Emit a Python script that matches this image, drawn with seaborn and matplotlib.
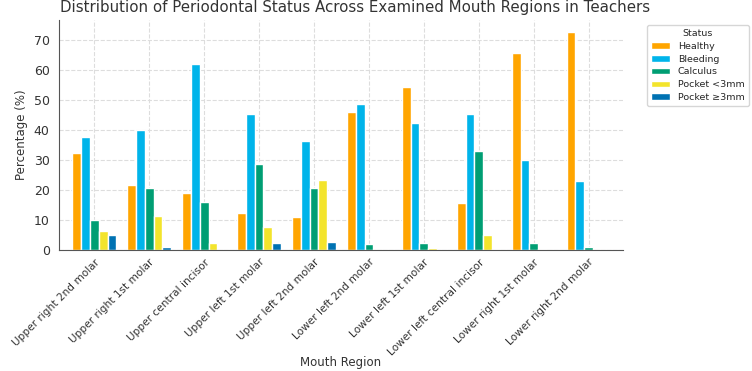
import pandas as pd
import matplotlib
matplotlib.use("Agg")
import matplotlib.pyplot as plt
import seaborn as sns

regions = ["Upper right 2nd molar", "Upper right 1st molar", "Upper central incisor",
           "Upper left 1st molar", "Upper left 2nd molar", "Lower left 2nd molar",
           "Lower left 1st molar", "Lower left central incisor", "Lower right 1st molar",
           "Lower right 2nd molar"]
statuses = ["Healthy", "Bleeding", "Calculus", "Pocket <3mm", "Pocket \u22653mm"]

healthy = [32.3, 21.8, 19.2, 12.4, 11.1, 46.0, 54.6, 15.7, 65.8, 72.7]
bleeding = [37.8, 40.0, 62.2, 45.3, 36.3, 48.8, 42.3, 45.4, 30.1, 23.2]
calculus = [10.0, 20.8, 16.1, 28.8, 20.6, 2.1, 2.2, 33.1, 2.4, 1.1]
pocket_lt3 = [6.4, 11.3, 2.2, 7.7, 23.3, 0.0, 0.7, 5.0, 0.2, 0.0]
pocket_ge3 = [5.0, 1.0, 0.0, 2.4, 2.6, 0.0, 0.0, 0.2, 0.0, 0.0]

colors = ["#FFA500", "#00B4EA", "#009E73", "#F3E42C", "#0072B2"]

df = pd.DataFrame({"Healthy": healthy, "Bleeding": bleeding, "Calculus": calculus,
                   statuses[3]: pocket_lt3, statuses[4]: pocket_ge3}, index=regions)
long = df.reset_index(names="Mouth Region").melt(id_vars="Mouth Region",
                                                   var_name="Status", value_name="Percentage")

sns.set_style("whitegrid", {"grid.linestyle": "--", "grid.color": "#d9d9d9",
                            "axes.edgecolor": "#555555"})
plt.rcParams['font.family'] = ['DejaVu Sans']

fig = plt.figure(figsize=(7.52, 3.71), dpi=100)
ax = fig.add_axes([0.078, 0.326, 0.75, 0.62])
sns.barplot(data=long, x="Mouth Region", y="Percentage", hue="Status",
            hue_order=statuses, palette=colors, width=0.8, saturation=1,
            ax=ax)

ax.set_xlim(-0.65, 9.62)
ax.set_ylim(0, 76.8)
ax.set_yticks(range(0, 80, 10))
ax.set_title("Distribution of Periodontal Status Across Examined Mouth Regions in Teachers",
             fontsize=10.8, color="#333333", pad=6, x=0.525)
ax.set_xlabel("Mouth Region", fontsize=8.5, color="#333333")
ax.xaxis.set_label_coords(0.5, -0.46)
ax.set_ylabel("Percentage (%)", fontsize=8.5, color="#333333")
ax.tick_params(axis="x", labelsize=7.6, colors="#333333", length=3, pad=2)
ax.tick_params(axis="y", labelsize=9, colors="#333333", length=3)
plt.setp(ax.get_xticklabels(), rotation=45, ha="right", rotation_mode="anchor")
ax.grid(True, linestyle="--", color="#dddddd", linewidth=0.8)
for s in ["top", "right"]:
    ax.spines[s].set_visible(False)

leg = ax.legend(title="Status", loc="upper left", bbox_to_anchor=(1.035, 1.0),
                fontsize=6.8, title_fontsize=6.8, frameon=True, handlelength=2.0,
                borderpad=0.45, labelspacing=0.4)
leg.get_frame().set_edgecolor("#cccccc")

fig.savefig("out.png", dpi=100)
